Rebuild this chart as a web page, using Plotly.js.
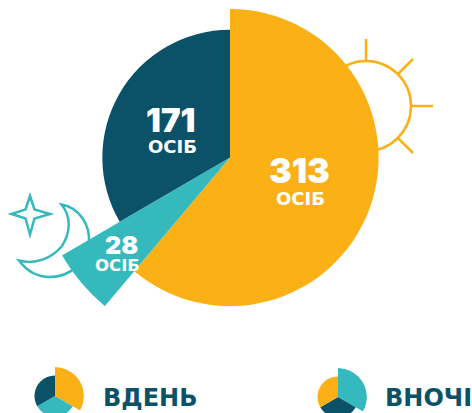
<!DOCTYPE html>
<html><head><meta charset="utf-8">
<script src="https://cdn.plot.ly/plotly-3.0.0.min.js"></script>
<style>html,body{margin:0;padding:0;background:#fff;overflow:hidden;width:472px;height:413px}
#c{position:absolute;left:0;top:-37px;width:472px;height:470px}</style>
</head><body><div id="c"></div>
<script>
const ORANGE='#FBB016', DARK='#0B5269', TEAL='#36B9BD';
const mainLabels=['313','28','171'];
const mainValues=[313,28,171];
const mainRadius=[149,195,128];
const mainColors=[ORANGE,TEAL,DARK];
const dayValues=[1,1,1];
const dayRadius=[29,20.5,20.5];
const dayColors=[ORANGE,TEAL,DARK];
const nightValues=[1,1,1];
const nightRadius=[29,20.5,20.5];
const nightColors=[TEAL,DARK,ORANGE];
const legendLabels=['ВДЕНЬ','ВНОЧІ'];
const unit='ОСІБ';

const W=472,H=470,OFF=37;
const px=x=>x/W, py=y=>1-(y+OFF)/H;
const P=(x,y)=>px(x).toFixed(5)+','+py(y).toFixed(5);

function wedges(values,radius,colors,polar){
  const sum=values.reduce((a,b)=>a+b,0);
  let acc=0;const theta=[],width=[];
  values.forEach(v=>{const w=v/sum*360;theta.push(acc+w/2);width.push(w);acc+=w;});
  return {type:'barpolar',subplot:polar,r:radius,theta:theta,width:width,
    marker:{color:colors,line:{width:0}},hoverinfo:'skip',showlegend:false};
}
function polarCfg(cx,cy,R){
  return {domain:{x:[px(cx-R),px(cx+R)],y:[py(cy+R),py(cy-R)]},
    bgcolor:'rgba(0,0,0,0)',
    radialaxis:{visible:false,range:[0,R]},
    angularaxis:{visible:false,direction:'clockwise',rotation:90}};
}
const data=[
  wedges(mainValues,mainRadius,mainColors,'polar'),
  wedges(dayValues,dayRadius,dayColors,'polar2'),
  wedges(nightValues,nightRadius,nightColors,'polar3')
];
function line(x0,y0,x1,y1,c,w){return {type:'line',xref:'paper',yref:'paper',layer:'below',
  x0:px(x0),y0:py(y0),x1:px(x1),y1:py(y1),line:{color:c,width:w}};}
function path(d,c,w){return {type:'path',xref:'paper',yref:'paper',layer:'below',path:d,line:{color:c,width:w},fillcolor:'rgba(0,0,0,0)'};}
const shapes=[
  {type:'circle',xref:'paper',yref:'paper',layer:'below',x0:px(321),x1:px(411),y0:py(151),y1:py(61),line:{color:ORANGE,width:2.5},fillcolor:'rgba(0,0,0,0)'},
  line(366,39,366,61,ORANGE,2.5),
  line(411,106,433,106,ORANGE,2.5),
  line(398,74,413,59,ORANGE,2.5),
  line(398,138,413,153,ORANGE,2.5),
  path('M'+P(30,196)+' L'+P(34.5,209.5)+' L'+P(50,214)+' L'+P(34.5,218.5)+' L'+P(30,234.5)+' L'+P(25.5,218.5)+' L'+P(11.5,214)+' L'+P(25.5,209.5)+' Z',TEAL,2.5),
  path('M'+P(61.5,204.5)+' C'+P(80,208)+' '+P(90,225)+' '+P(89,242)+' C'+P(87,262)+' '+P(70,277)+' '+P(50,277)+' C'+P(37,277)+' '+P(26,270)+' '+P(19,260.5)
      +' C'+P(36,265)+' '+P(52,258)+' '+P(62,246)+' C'+P(71,232)+' '+P(71,216)+' '+P(61.5,204.5)+' Z',TEAL,2.5)
];
function ann(t,x,y,size,color,anchor,family,weight){return {text:t,xref:'paper',yref:'paper',x:px(x),y:py(y),xanchor:anchor||'center',yanchor:'middle',
  showarrow:false,borderpad:0,font:{family:family,size:size,color:color,weight:weight}};}
const NUM='Inter, "Open Sans", sans-serif', CAP='"DejaVu Sans", sans-serif';
const annotations=[
  ann(mainLabels[2],170,120,33,'#fff','center',NUM,900),
  ann(unit,172,146,18,'#fff','center',CAP,700),
  ann(mainLabels[0],299,170,34,'#fff','center',NUM,900),
  ann(unit,300,198,18,'#fff','center',CAP,700),
  ann(mainLabels[1],122,245,25,'#fff','center',NUM,900),
  ann(unit,117,265,16.5,'#fff','center',CAP,700),
  ann(legendLabels[0],102,398,24,DARK,'left',CAP,700),
  ann(legendLabels[1],384,398,24,DARK,'left',CAP,700)
];
Plotly.newPlot('c',data,{
  width:W,height:H,margin:{l:0,r:0,t:0,b:0},paper_bgcolor:'#fff',
  polar:polarCfg(230,157,195),
  polar2:polarCfg(55,396,29),
  polar3:polarCfg(338,397,29),
  shapes:shapes,annotations:annotations,showlegend:false
},{staticPlot:true,displayModeBar:false});
</script></body></html>
